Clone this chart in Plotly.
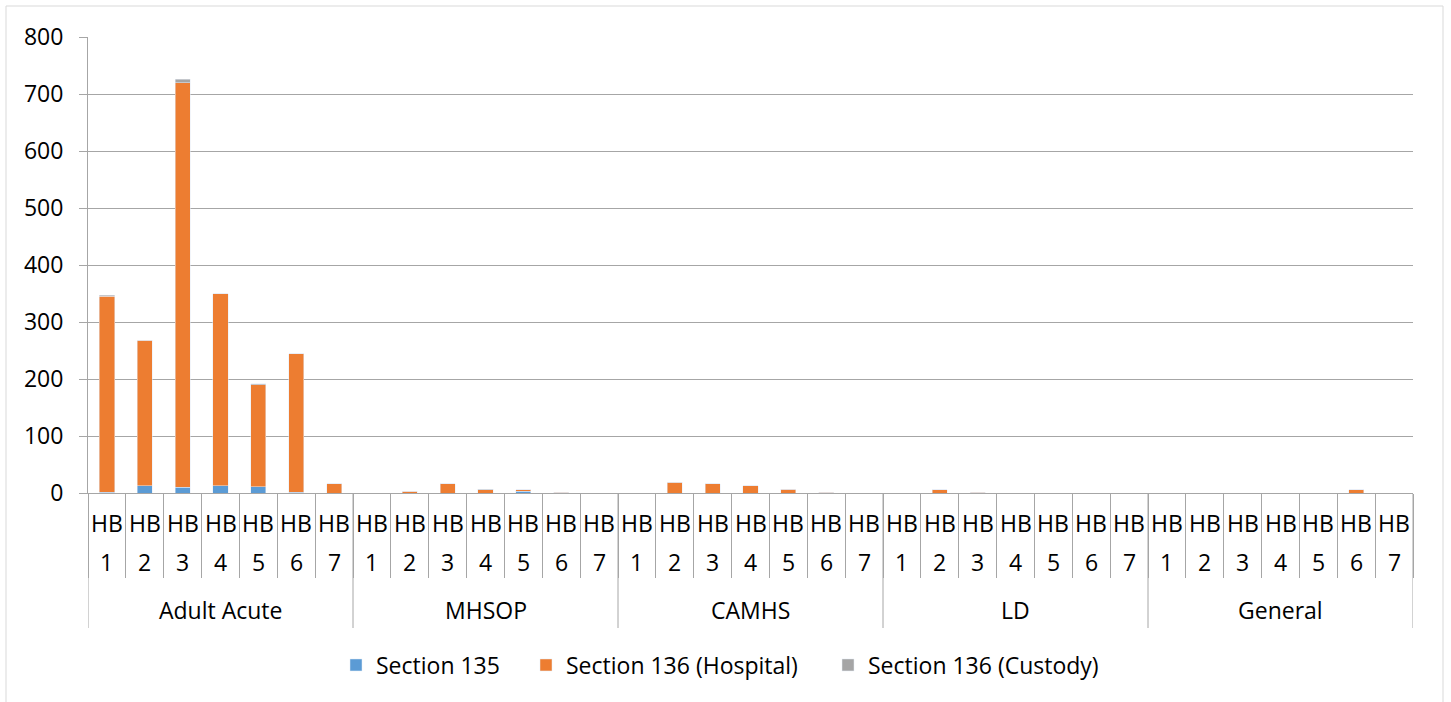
import plotly.graph_objects as go

groups = ["Adult Acute", "MHSOP", "CAMHS", "LD", "General"]
hb_labels = ["HB 1", "HB 2", "HB 3", "HB 4", "HB 5", "HB 6", "HB 7"]
series_names = ["Section 135", "Section 136 (Hospital)", "Section 136 (Custody)"]

section_135 = [1, 13, 10, 13, 11, 1, 0,
               0, 0, 0, 0, 3, 0, 0,
               0, 0, 0, 0, 0, 0, 0,
               0, 0, 0, 0, 0, 0, 0,
               0, 0, 0, 0, 0, 0, 0]
section_136_hospital = [344, 255, 710, 337, 179, 243, 16,
                        0, 3, 16, 6, 3, 1, 0,
                        0, 19, 16, 13, 7, 1, 0,
                        0, 6, 1, 0, 0, 0, 0,
                        0, 0, 0, 0, 0, 6, 0]
section_136_custody = [2, 0, 6, 0, 2, 0, 0,
                       0, 0, 0, 1, 0, 0, 0,
                       0, 0, 0, 0, 0, 0, 0,
                       0, 0, 0, 0, 0, 0, 0,
                       0, 0, 0, 0, 0, 0, 0]
y_ticks = [0, 100, 200, 300, 400, 500, 600, 700, 800]

FONT = "Open Sans"
FS = 23
GRID = "#a6a6a6"
colors = ["#5B9BD5", "#ED7D31", "#A5A5A5"]

x_keys = [f"{g}|{h}" for g in groups for h in hb_labels]

PL, PW, PT, PH = 88, 1325, 37, 456


def px_x(px):
    return (px - PL) / PW


def px_y(py):
    return (PT + PH - py) / PH


fig = go.Figure()
legend_names = ["legend", "legend2", "legend3"]
for vals, name, col, lg in zip([section_135, section_136_hospital, section_136_custody],
                               series_names, colors, legend_names):
    fig.add_bar(x=x_keys, y=vals, name=name, marker_color=col, legend=lg)

annotations = []
for i, key in enumerate(x_keys):
    hb, num = hb_labels[i % 7].split(" ")
    annotations.append(dict(x=key, xref="x", y=px_y(523), yref="paper", text=hb,
                            showarrow=False, yanchor="middle", xanchor="center",
                            font=dict(family=FONT, size=FS, color="black")))
    annotations.append(dict(x=key, xref="x", y=px_y(562), yref="paper", text=num,
                            showarrow=False, yanchor="middle", xanchor="center",
                            font=dict(family=FONT, size=FS, color="black")))
for gi, g in enumerate(groups):
    annotations.append(dict(x=gi * 7 + 3, xref="x", y=px_y(610), yref="paper", text=g,
                            showarrow=False, yanchor="middle", xanchor="center",
                            font=dict(family=FONT, size=FS, color="black")))

shapes = []
for gi in range(len(groups) + 1):
    shapes.append(dict(type="line", xref="x", yref="paper", x0=gi * 7 - 0.5, x1=gi * 7 - 0.5,
                       y0=0, y1=px_y(628), line=dict(color=GRID, width=1)))
# chart outer border
shapes.append(dict(type="rect", xref="paper", yref="paper",
                   x0=px_x(6), x1=px_x(1443), y0=px_y(720), y1=px_y(6),
                   line=dict(color="#d9d9d9", width=1), fillcolor="rgba(0,0,0,0)", layer="below"))

legend_text_x = [376, 566, 868]
leg = {}
for lg, tx in zip(legend_names, legend_text_x):
    leg[lg] = dict(orientation="h", x=px_x(tx - 40), xanchor="left",
                   y=px_y(665), yanchor="middle", bgcolor="rgba(0,0,0,0)",
                   font=dict(family=FONT, size=FS, color="black"))

fig.update_layout(
    barmode="stack",
    bargap=0.6,
    width=1451, height=702,
    margin=dict(l=PL, r=1451 - PL - PW, t=PT, b=702 - PT - PH),
    plot_bgcolor="white", paper_bgcolor="white",
    font=dict(family=FONT, size=FS, color="black"),
    showlegend=True,
    annotations=annotations,
    shapes=shapes,
    xaxis=dict(type="category", showticklabels=False, ticks="outside", tickson="boundaries",
               ticklen=84, tickcolor=GRID, tickwidth=1, showline=True, linecolor=GRID,
               linewidth=1, showgrid=False, range=[-0.5, 34.5]),
    yaxis=dict(range=[0, 800], tickvals=y_ticks, showgrid=True, gridcolor=GRID, gridwidth=1,
               showline=True, linecolor=GRID, linewidth=1, ticks="outside", ticklen=8,
               tickcolor=GRID, zeroline=False, ticklabelstandoff=11,
               tickfont=dict(family=FONT, size=FS, color="black")),
    **leg,
)

fig.write_html("out.html", config={"displayModeBar": False},
               post_script="document.body.style.margin='0px';")
